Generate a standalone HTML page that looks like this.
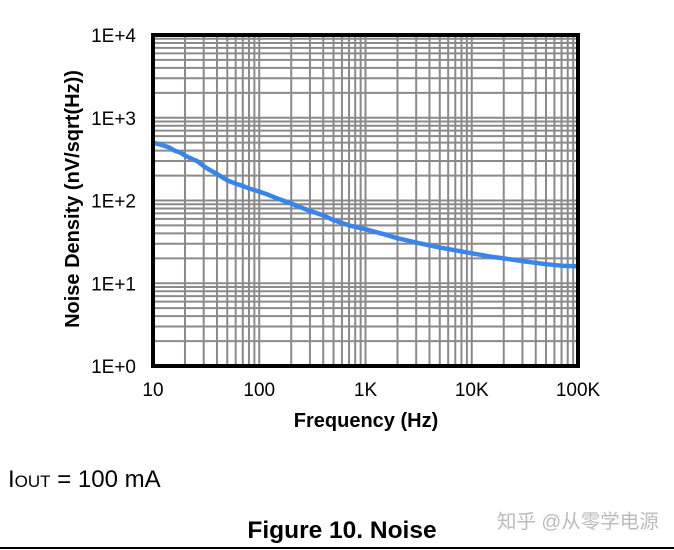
<!DOCTYPE html>
<html><head><meta charset="utf-8"><style>
body{margin:0;background:#fff;width:674px;height:550px;overflow:hidden;font-family:"Liberation Sans",Arial,sans-serif}
svg{position:absolute;left:0;top:0}
</style></head><body>
<svg id="chart" width="674" height="550" font-family="Liberation Sans, Arial, sans-serif">
<g id="grid"></g>
<g id="series"></g>
<rect x="153" y="35" width="425" height="331" fill="none" stroke="#000" stroke-width="4"/>
<g id="xticks" font-size="19" text-anchor="middle"></g>
<g id="yticks" font-size="19" text-anchor="end"></g>
<text x="366" y="427" font-size="20" font-weight="bold" text-anchor="middle">Frequency (Hz)</text>
<text transform="translate(79,199) rotate(-90)" font-size="20" font-weight="bold" text-anchor="middle">Noise Density (nV/sqrt(Hz))</text>
<text x="8" y="487" font-size="24">I<tspan font-size="17">OUT</tspan> = 100 mA</text>
<text x="342" y="538" font-size="24.5" font-weight="bold" text-anchor="middle">Figure 10. Noise</text>
<text x="497" y="528" font-size="19.5" fill="#bbb" font-family="Liberation Sans, Noto Sans CJK SC, sans-serif">知乎 @从零学电源</text>
<line x1="0" y1="548" x2="674" y2="548" stroke="#000" stroke-width="2"/>
</svg>
<script>
const xTickLabels=["10","100","1K","10K","100K"];
const yTickLabels=["1E+0","1E+1","1E+2","1E+3","1E+4"];
const freqs=[10,12,14,16,18,20,23,26,30,35,40,45,50,60,70,80,100,120,150,200,250,300,400,500,700,1000,1500,2000,3000,5000,7000,10000,15000,20000,30000,50000,70000,100000];
const noise=[500,470,440,400,380,350,320,300,260,230,210,190,175,160,150,140,128,118,105,92,82,75,66,58,50,45,39,35,31,27,25,23,21,20,18.5,17,16.3,16];
const X0=153,X1=578,Y0=366,Y1=35;
const xs=v=>X0+(Math.log10(v)-1)/4*(X1-X0);
const ys=v=>Y0-Math.log10(v)/4*(Y0-Y1);
const NS="http://www.w3.org/2000/svg";
const grid=document.getElementById('grid');
for(let d=0;d<4;d++)for(let m=1;m<10;m++){
 const xv=10*Math.pow(10,d)*m, yv=Math.pow(10,d)*m;
 const lx=document.createElementNS(NS,'line');
 
 
 lx.setAttribute('x1',xs(xv));lx.setAttribute('x2',xs(xv));lx.setAttribute('y1',Y1);lx.setAttribute('y2',Y0);
 lx.setAttribute('stroke','#8a8a8a');lx.setAttribute('stroke-width','2');grid.appendChild(lx);
 const ly=document.createElementNS(NS,'line');
 
 
 ly.setAttribute('y1',ys(yv));ly.setAttribute('y2',ys(yv));ly.setAttribute('x1',X0);ly.setAttribute('x2',X1);
 ly.setAttribute('stroke','#8a8a8a');ly.setAttribute('stroke-width','2');grid.appendChild(ly);
}
const pl=document.createElementNS(NS,'polyline');


pl.setAttribute('points',freqs.map((f,i)=>xs(f)+','+ys(noise[i])).join(' '));
pl.setAttribute('fill','none');pl.setAttribute('stroke','#3a86e8');pl.setAttribute('stroke-width','4.5');pl.setAttribute('stroke-linejoin','round');
document.getElementById('series').appendChild(pl);
const xt=document.getElementById('xticks');
xTickLabels.forEach((l,i)=>{const t=document.createElementNS(NS,'text');
 
 
 t.setAttribute('x',xs(10*Math.pow(10,i)));t.setAttribute('y',396);t.textContent=l;xt.appendChild(t);});
const yt=document.getElementById('yticks');
yTickLabels.forEach((l,i)=>{const t=document.createElementNS(NS,'text');
 
 
 t.setAttribute('x',136);t.setAttribute('y',ys(Math.pow(10,i))+7);t.textContent=l;yt.appendChild(t);});
</script>
</body></html>
